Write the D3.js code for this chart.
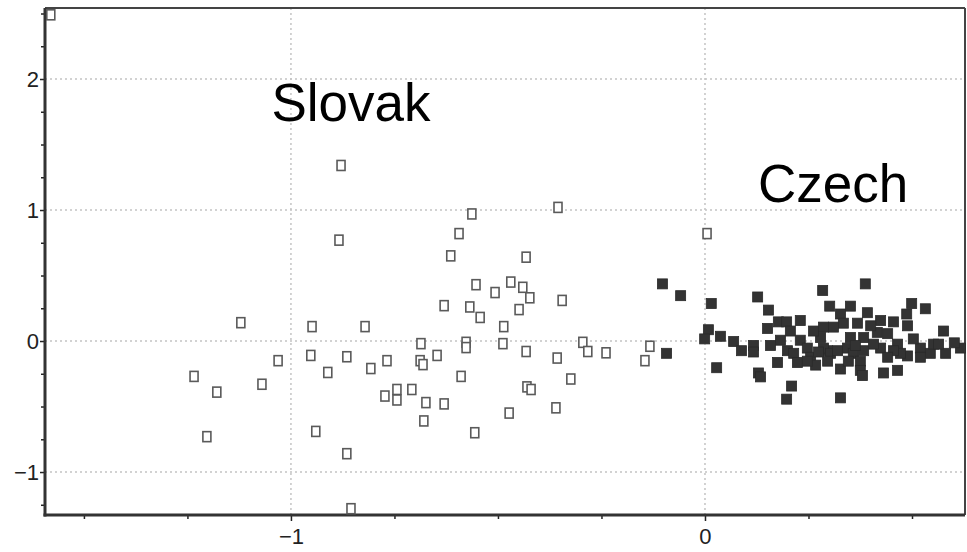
<!DOCTYPE html>
<html>
<head>
<meta charset="utf-8">
<script src="https://cdn.jsdelivr.net/npm/d3@7"></script>
<style>
  body { margin: 0; background: #fff; }
  svg { display: block; }
  .tick-label { font-family: "Liberation Sans Narrow", "Arial Narrow", "Liberation Sans", sans-serif; font-size: 22px; fill: #222; }
  .group-label { font-family: "Liberation Sans", Arial, sans-serif; font-size: 53px; fill: #000; }
</style>
</head>
<body>
<svg width="967" height="552"></svg>
<script>
// Slovak observations (open squares): [dim1, dim2]
let slovakX = [-1.580, -0.879, -0.884, -1.121, -1.234, -1.179, -1.203, -1.070, -1.031, -0.949,
  -0.952, -0.940, -0.911, -0.355, -0.563, -0.594, -0.614, -0.432, -0.553, -0.507,
  -0.469, -0.440, -0.423, -0.345, -0.630, -0.568, -0.543, -0.449, -0.821, -0.486,
  -0.686, -0.577, -0.577, -0.488, -0.295, -0.133, -0.865, -0.807, -0.768, -0.688,
  -0.681, -0.647, -0.432, -0.283, -0.239, -0.357, -0.145, -0.589, -0.324, -0.773,
  -0.744, -0.744, -0.708, -0.674, -0.630, -0.430, -0.420, -0.473, -0.360, -0.679,
  -0.556, -0.865, -0.855, 0.005];
let slovakY = [2.49, 1.34, 0.77, 0.14, -0.27, -0.39, -0.73, -0.33, -0.15, 0.11,
  -0.11, -0.69, -0.24, 1.02, 0.97, 0.82, 0.65, 0.64, 0.43, 0.37,
  0.45, 0.41, 0.33, 0.31, 0.27, 0.26, 0.18, 0.24, 0.11, 0.11,
  -0.02, -0.01, -0.05, -0.02, -0.01, -0.04, -0.12, -0.21, -0.15, -0.15,
  -0.18, -0.11, -0.08, -0.08, -0.09, -0.13, -0.15, -0.27, -0.29, -0.42,
  -0.37, -0.45, -0.37, -0.47, -0.48, -0.35, -0.37, -0.55, -0.51, -0.61,
  -0.70, -0.86, -1.28, 0.82];

// Czech observations (filled squares)
let czechX = [-0.104, -0.060, -0.094, 0.014, 0.007, -0.002, 0.036, 0.027, 0.068, 0.087,
  0.116, 0.116, 0.126, 0.152, 0.150, 0.128, 0.133, 0.174, 0.208, 0.196,
  0.176, 0.196, 0.229, 0.181, 0.205, 0.229, 0.198, 0.213, 0.246, 0.254,
  0.278, 0.285, 0.295, 0.283, 0.300, 0.386, 0.350, 0.391, 0.498, 0.531,
  0.486, 0.488, 0.575, 0.616, 0.580, 0.543, 0.519, 0.502, 0.326, 0.333,
  0.367, 0.309, 0.423, 0.415, 0.440, 0.464, 0.488, 0.471, 0.454, 0.423,
  0.406, 0.285, 0.302, 0.319, 0.343, 0.357, 0.374, 0.374, 0.326, 0.379,
  0.430, 0.464, 0.326, 0.295, 0.350, 0.382, 0.382, 0.440, 0.551, 0.519,
  0.261, 0.222, 0.157, 0.266, 0.399, 0.601, 0.563, 0.454, 0.345, 0.246,
  0.273, 0.362];
let czechY = [0.44, 0.35, -0.09, 0.29, 0.09, 0.02, 0.04, -0.20, 0.00, -0.07,
  -0.03, -0.08, 0.34, 0.24, 0.10, -0.24, -0.27, -0.16, -0.34, -0.44,
  0.15, 0.15, 0.16, 0.01, 0.08, 0.01, -0.07, -0.09, -0.05, -0.12,
  0.03, 0.11, -0.07, 0.39, 0.27, 0.44, 0.27, 0.22, 0.29, 0.25,
  0.21, 0.12, 0.08, -0.05, -0.09, -0.09, -0.05, 0.02, 0.21, 0.14,
  0.14, 0.11, 0.16, 0.07, 0.06, -0.02, -0.11, -0.09, -0.07, -0.05,
  -0.02, -0.05, -0.09, -0.07, -0.05, -0.09, -0.15, -0.22, -0.21, -0.26,
  -0.24, -0.22, -0.43, -0.15, 0.03, 0.03, -0.07, -0.12, -0.02, -0.12,
  0.08, -0.16, -0.03, -0.18, 0.12, -0.01, -0.02, 0.15, -0.15, -0.15,
  -0.08, -0.03];

let xMajor = [-1, 0];
let yMajor = [-1, 0, 1, 2];
let xMinor = [-1.5, -1.25, -0.75, -0.5, -0.25, 0.25, 0.5];
let yMinor = [-1.25, -0.75, -0.5, -0.25, 0.25, 0.5, 0.75, 1.25, 1.5, 1.75, 2.25, 2.5];

let labels = [
  { text: "Slovak", x: -1.047, y: 1.68 },
  { text: "Czech", x: 0.128, y: 1.06 }
];

var svg = d3.select("svg");
let margin = { left: 45, top: 8, right: 2, bottom: 37 };
let w = +svg.attr("width") - margin.left - margin.right,
    h = +svg.attr("height") - margin.top - margin.bottom;

let x = d3.scaleLinear().domain([-1.594, 0.628]).range([0, w]);
let y = d3.scaleLinear().domain([-1.328, 2.542]).range([h, 0]);

let g = svg.append("g").attr("transform", translate(margin.left, margin.top));

// dotted grid at major ticks
g.selectAll(".vgrid").data(xMajor).enter().append("line")
  .attr("x1", d => x(d)).attr("x2", d => x(d))
  .attr("y1", 0).attr("y2", h)
  .attr("stroke", "#c4c4c4").attr("stroke-width", 1.5)
  .attr("stroke-dasharray", "2,3");
g.selectAll(".hgrid").data(yMajor).enter().append("line")
  .attr("y1", d => y(d)).attr("y2", d => y(d))
  .attr("x1", 0).attr("x2", w)
  .attr("stroke", "#c4c4c4").attr("stroke-width", 1.5)
  .attr("stroke-dasharray", "2,3");

// axes
let yAxis = d3.axisLeft(y).tickValues(yMajor).tickSize(5).tickFormat(d3.format("d"));
let xAxis = d3.axisBottom(x).tickValues(xMajor).tickSize(6).tickFormat(d3.format("d"));
let yMinorAxis = d3.axisLeft(y).tickValues(yMinor).tickSize(4).tickFormat("");
let xMinorAxis = d3.axisBottom(x).tickValues(xMinor).tickSize(4).tickFormat("");

function styleAxis(sel) {
  sel.select(".domain").remove();
  sel.selectAll(".tick line").attr("stroke", "#222").attr("stroke-width", 1.5);
  sel.selectAll(".tick text").attr("class", "tick-label");
}

g.append("g").call(yAxis).call(styleAxis)
  .selectAll(".tick text").attr("x", -6);
g.append("g").call(yMinorAxis).call(styleAxis);
g.append("g").attr("transform", translate(0, h)).call(xAxis).call(styleAxis)
  .selectAll(".tick text").attr("y", 13);
g.append("g").attr("transform", translate(0, h)).call(xMinorAxis).call(styleAxis);

// frame
g.append("line").attr("x1", 0).attr("x2", w).attr("y1", 0).attr("y2", 0)
  .attr("stroke", "#444").attr("stroke-width", 2);
g.append("line").attr("x1", w).attr("x2", w).attr("y1", 0).attr("y2", h)
  .attr("stroke", "#444").attr("stroke-width", 2);
g.append("line").attr("x1", 0).attr("x2", 0).attr("y1", 0).attr("y2", h + 1.5)
  .attr("stroke", "#333").attr("stroke-width", 3);
g.append("line").attr("x1", -1.5).attr("x2", w).attr("y1", h).attr("y2", h)
  .attr("stroke", "#333").attr("stroke-width", 3);

// points
let s = 9;
let slovak = slovakX.map((v, i) => ({ x: v, y: slovakY[i] }));
let czech = czechX.map((v, i) => ({ x: v, y: czechY[i] }));

g.selectAll(".sk").data(slovak).enter().append("rect")
  .attr("class", "sk")
  .attr("x", d => x(d.x) - s / 2 + 0.5)
  .attr("y", d => y(d.y) - s / 2 - 0.5)
  .attr("width", s - 1).attr("height", s + 1)
  .attr("fill", "#fff").attr("stroke", "#5a5a5a").attr("stroke-width", 1.6);

g.selectAll(".cz").data(czech).enter().append("rect")
  .attr("class", "cz")
  .attr("x", d => x(d.x) - s / 2)
  .attr("y", d => y(d.y) - s / 2)
  .attr("width", s + 1).attr("height", s + 1)
  .attr("fill", "#333").attr("stroke", "#2a2a2a").attr("stroke-width", 0.8);

// group labels
g.selectAll(".group-label").data(labels).enter().append("text")
  .attr("class", "group-label")
  .attr("x", d => x(d.x)).attr("y", d => y(d.y))
  .text(d => d.text);

function translate(a, b) {
  return `translate(${a},${b})`;
}
</script>
</body>
</html>
